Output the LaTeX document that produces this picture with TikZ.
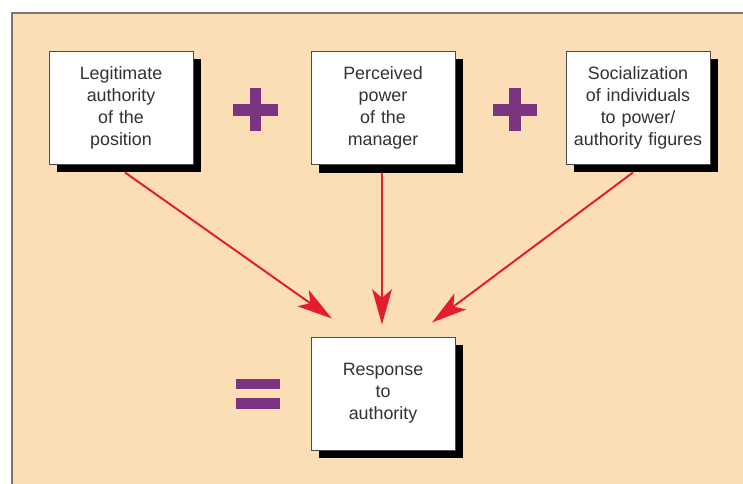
\documentclass[tikz,border=0pt]{standalone}
\usepackage{fontspec}
\setmainfont{Liberation Sans}
\usetikzlibrary{arrows.meta,calc,shadows}
\definecolor{peach}{RGB}{251,222,182}
\definecolor{framegray}{RGB}{125,120,105}
\definecolor{signpurple}{RGB}{122,52,128}
\definecolor{arrowred}{RGB}{226,30,45}
\definecolor{textgray}{RGB}{50,50,50}
\tikzset{
  factor/.style={draw=black!70, line width=0.6pt, fill=white, text=textgray,
    align=center, text width=100.4pt, inner sep=1pt, minimum height=80.4pt,
    font=\fontsize{12.7pt}{15.6pt}\selectfont,
    general shadow={fill=black, shadow xshift=5.7pt, shadow yshift=-5.7pt}},
  infl/.style={->, >={Stealth[length=25pt,width=14pt,inset=6pt]}, arrowred, line width=1.4pt},
  sign/.style={signpurple, line width=8.5pt},
}
\begin{document}
\begin{tikzpicture}[x=0.025cm,y=-0.025cm]
    \useasboundingbox (0,0) rectangle (743,484);
    \fill[white] (0,0) rectangle (743,484);
    \begin{scope}
        \clip (0,0) rectangle (743,484);
        \filldraw[fill=peach, draw=framegray, line width=1.4pt] (12,13) rectangle (760,500);
    \end{scope}
    % the three factors
    \node[factor] (legit) at (121,107.5) {Legitimate\\authority\\of the\\position};
    \node[factor] (power) at (383,108) {Perceived\\power\\of the\\manager};
    \node[factor] (social) at (638,107.5) {Socialization\\of individuals\\to power/\\authority figures};
    % the result
    \node[factor] (resp) at (383,393.5) {Response\\to\\authority};
    % plus and equals signs
    \draw[sign] (233,110)--(278,110) (255.5,88)--(255.5,131);
    \draw[sign] (493,110)--(537,110) (515,88)--(515,131);
    \fill[signpurple] (236,379) rectangle (280,389.5);
    \fill[signpurple] (236,398.5) rectangle (280,409);
    % arrows into the result
    \coordinate (in1) at ($(resp.north)+(-51,-18)$);
    \coordinate (in2) at ($(resp.north)+(-1,-12)$);
    \coordinate (in3) at ($(resp.north)+(49,-14)$);
    \draw[infl] ($(legit.south)+(4,8)$)--(in1);
    \draw[infl] ($(power.south)+(-1,8)$)--(in2);
    \draw[infl] ($(social.south)+(-5,8)$)--(in3);
\end{tikzpicture}
\end{document}
